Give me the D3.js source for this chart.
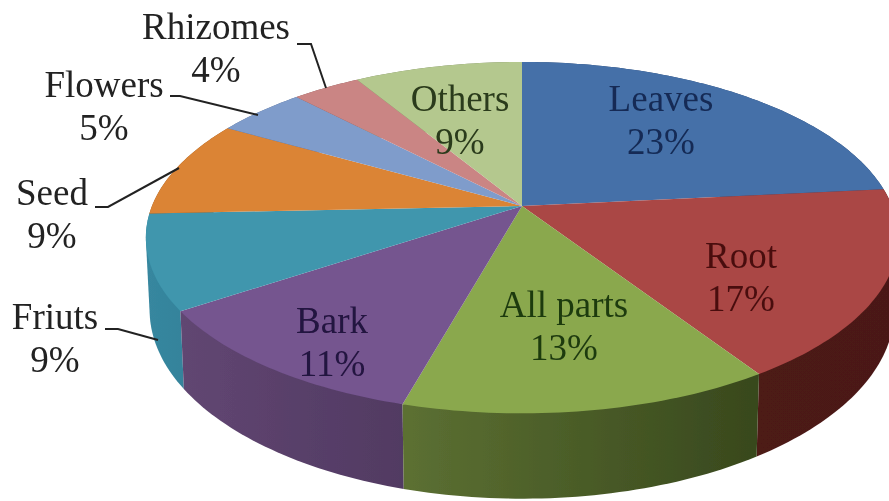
<!DOCTYPE html>
<html>
<head>
<meta charset="utf-8">
<script src="https://cdn.jsdelivr.net/npm/d3@7"></script>
<style>
  html, body { margin: 0; padding: 0; background: #fff; overflow: hidden; }
  svg { display: block; }
  text { font-family: "Liberation Serif", serif; font-size: 37px; text-anchor: middle; }
</style>
</head>
<body>
<svg id="chart" width="889" height="501"></svg>
<script>
// ── Data ───────────────────────────────────────────────────────────────────

const categories = ['Leaves', 'Root', 'All parts', 'Bark', 'Friuts', 'Seed', 'Flowers', 'Rhizomes', 'Others'];
// the printed labels are these values rounded
const shares     = [23.4, 17.45, 13.45, 11.3, 8.7, 9.0, 4.6, 3.5, 8.6];

// ── Styles ─────────────────────────────────────────────────────────────────

const topColors  = ['#4570a8', '#aa4644', '#8aa84e', '#74548f', '#3f96ad', '#db8436', '#7f9ccb', '#ca8584', '#b4c88e'];
const wallLeft   = ['#2c4770', '#4d1a18', '#5c7032', '#614672', '#37879f', '#8c5522', '#55688a', '#805655', '#75825c'];
const wallRight  = ['#2c4770', '#4a1917', '#38481d', '#513a62', '#34839b', '#8c5522', '#55688a', '#805655', '#75825c'];
const inkColors  = ['#132a55', '#4a0f10', '#1f3a10', '#23123f', '#222', '#222', '#222', '#222', '#2a3a1a'];

// label centre x, first baseline y
const labelX = [661, 741, 564, 332, 55, 52, 104, 216, 460];
const labelY = [111, 268, 317, 333, 329, 205, 97, 39, 111];
const lineGap = 43;

// leader lines for the labels outside the pie
const leaders = [
  [[105, 329], [118, 329], [158, 340]],
  [[95, 207], [108, 207], [179, 168]],
  [[170, 96], [180, 96], [258, 115]],
  [[297, 44], [311, 44], [326, 88]]
];

// ── Projection: tilted disc with perspective ──────────────────────────────

const cx = 522, cy = 206;
const spanX = 370, spanY = 170, persp = 0.18, depth = 70, shrink = 0.99;

function project(angle, bottom) {
  const X = Math.sin(angle), Y = Math.cos(angle);
  const w = 1 + persp * Y;
  const u = spanX * X / w * (bottom ? shrink : 1);
  const v = -spanY * Y / w + (bottom ? depth / w : 0);
  return [cx + u, cy + v];
}

function arcPoints(a0, a1, bottom) {
  const n = Math.max(2, Math.ceil(Math.abs(a1 - a0) / 0.02));
  return d3.range(n + 1).map(i => project(a0 + (a1 - a0) * i / n, bottom));
}

// ── Render ─────────────────────────────────────────────────────────────────

const svg = d3.select('#chart');
const defs = svg.append('defs');
defs.append('filter').attr('id', 'soft')
  .append('feGaussianBlur').attr('stdDeviation', 0.6);

const slices = d3.pie().sort(null)(shares);
const line = d3.line();
const root = svg.append('g').attr('filter', 'url(#soft)');

slices.forEach((s, i) => {
  const g = defs.append('linearGradient').attr('id', `wall${i}`);
  g.append('stop').attr('offset', 0).attr('stop-color', wallLeft[i]);
  g.append('stop').attr('offset', 1).attr('stop-color', wallRight[i]);
});

// walls: back to front, the top faces cover what is behind them
const order = d3.range(slices.length).sort((a, b) =>
  Math.cos((slices[b].startAngle + slices[b].endAngle) / 2) -
  Math.cos((slices[a].startAngle + slices[a].endAngle) / 2));

// hull, so the silhouette runs straight from the top rim to the bottom rim
root.append('g').selectAll('path')
  .data(order)
  .join('path')
  .attr('fill', i => `url(#wall${i})`)
  .attr('d', i => {
    const s = slices[i];
    const upper = arcPoints(s.startAngle, s.endAngle, false);
    const lower = arcPoints(s.endAngle, s.startAngle, true);
    return line(d3.polygonHull(upper.concat(lower))) + 'Z';
  });

root.append('g').selectAll('path')
  .data(slices)
  .join('path')
  .attr('fill', (d, i) => topColors[i])
  .attr('d', d => line([[cx, cy], ...arcPoints(d.startAngle, d.endAngle, false)]) + 'Z');

root.append('g').selectAll('path')
  .data(leaders)
  .join('path')
  .attr('fill', 'none')
  .attr('stroke', '#222')
  .attr('stroke-width', 2)
  .attr('d', line);

const labels = root.append('g').selectAll('text')
  .data(categories)
  .join('text')
  .attr('fill', (d, i) => inkColors[i]);

labels.append('tspan')
  .attr('x', (d, i) => labelX[i])
  .attr('y', (d, i) => labelY[i])
  .text(d => d);

labels.append('tspan')
  .attr('x', (d, i) => labelX[i])
  .attr('y', (d, i) => labelY[i] + lineGap)
  .text((d, i) => `${Math.round(shares[i])}%`);
</script>
</body>
</html>
